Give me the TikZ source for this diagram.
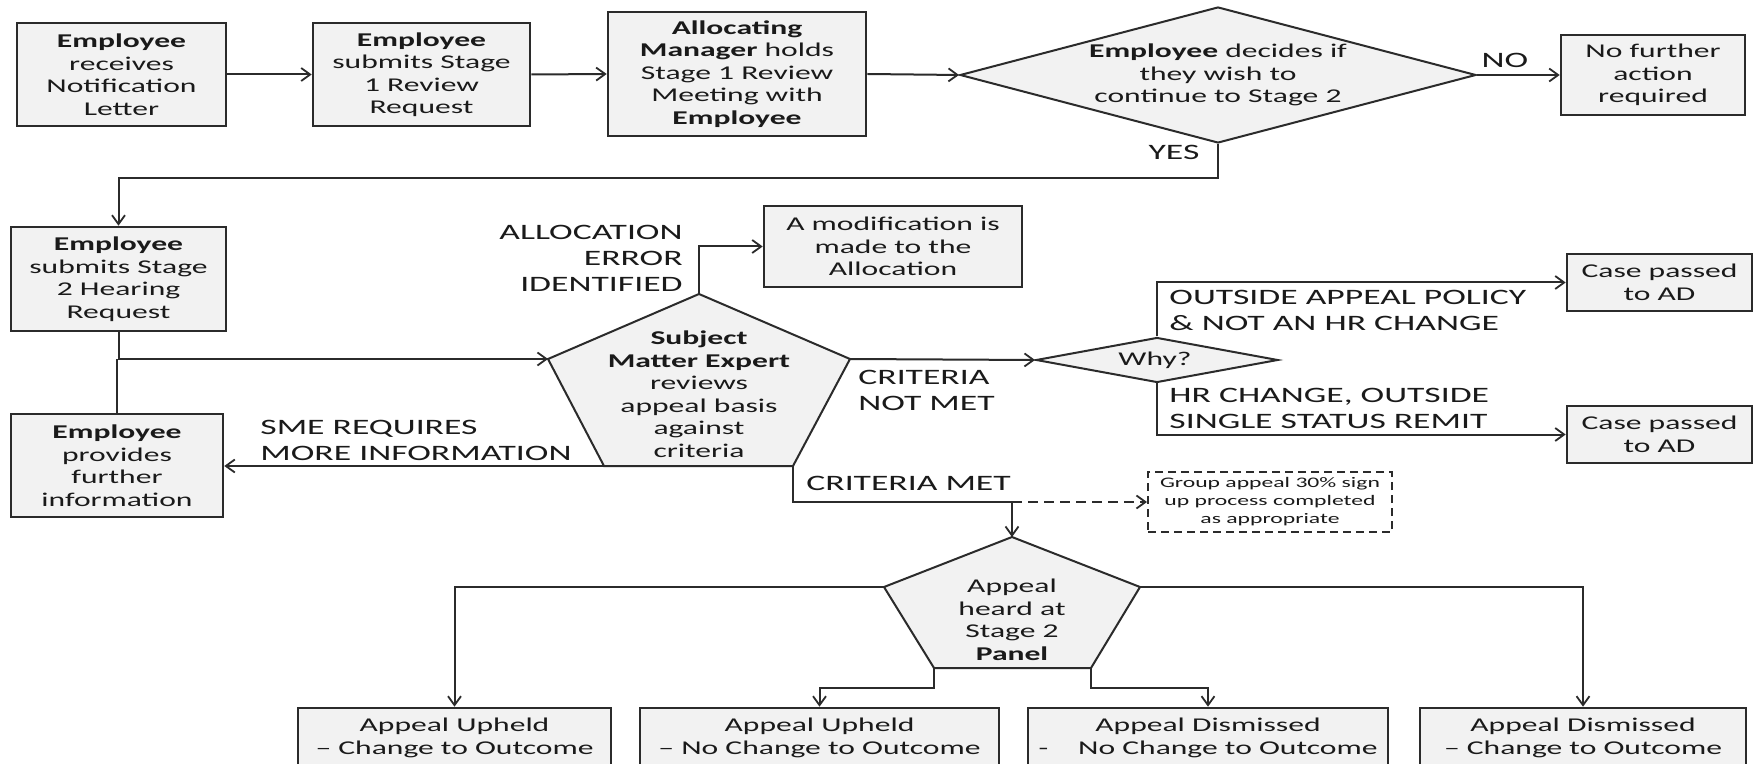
\documentclass[tikz,border=0pt]{standalone}
\usepackage{fontspec}
\setmainfont{Carlito}[FakeStretch=1.62]
\usetikzlibrary{arrows.meta,shapes.geometric}

\definecolor{boxfill}{HTML}{F2F2F2}
\definecolor{linegray}{HTML}{2B2B2B}
\definecolor{inkcol}{HTML}{1A1A1A}

\newcommand\flowboxfont{\fontsize{9.75pt}{11.25pt}\selectfont}
\newcommand\flowlabelfont{\fontsize{11pt}{13pt}\selectfont}
\newcommand\flownotefont{\fontsize{7.3pt}{9pt}\selectfont}

% box given by its corners (x1,y1) (x2,y2) in pixel units
\newcommand\flowbox[7][]{%
  \node[boxst,#1,minimum width={(#4-#2)*0.5pt},minimum height={(#5-#3)*0.5pt}]
    (#6) at ({(#2+#4)/2},{(#3+#5)/2}) {#7};}

\begin{document}
\begin{tikzpicture}[x=0.5pt,y=-0.5pt,
  boxst/.style={draw=linegray,line width=1.3pt,fill=boxfill,inner sep=0pt,
    align=center,font=\flowboxfont,text=inkcol},
  notest/.style={draw=linegray,line width=1pt,dash pattern=on 4pt off 2.5pt,
    fill=white,inner sep=0pt,align=center,font=\flownotefont,text=inkcol},
  shapest/.style={draw=linegray,line width=1pt,fill=boxfill},
  decisionst/.style={diamond,shapest,inner sep=0pt},
  txt/.style={inner sep=0pt,align=center,font=\flowboxfont,text=inkcol},
  lab/.style={inner sep=0pt,font=\flowlabelfont,text=inkcol},
  ln/.style={draw=linegray,line width=1pt},
  arr/.style={ln,-{Straight Barb[length=4.5pt,width=6.5pt,line width=0.9pt]}}]

\useasboundingbox (0,0) rectangle (1755,764);
\fill[white] (0,0) rectangle (1755,764);
\clip (0,0) rectangle (1755,764);

% ---- stage 1 row
\flowbox{17}{23}{226}{126}{b1}{\textbf{Employee}\\receives\\Notification\\Letter}
\flowbox{313}{23}{530}{126}{b2}{\textbf{Employee}\\submits Stage\\1 Review\\Request}
\flowbox{608}{12}{866}{136}{b3}{\textbf{Allocating}\\\textbf{Manager} holds\\Stage 1 Review\\Meeting with\\\textbf{Employee}}
\node[decisionst,minimum width=258pt,minimum height=68pt] (d1) at (1218,75) {};
\node[txt] (d1t) at (1218,75) {\textbf{Employee} decides if\\they wish to\\continue to Stage 2};
\flowbox{1561}{35}{1745}{115}{b4}{No further\\action\\required}

\draw[arr] (b1.east) -- (b2.west);
\draw[arr] (b2.east) -- (b3.west);
\draw[arr] (b3.east) -- (d1.west);
\draw[arr] (d1.east) -- (b4.west);
\node[lab] (nolab) at (1505,60) {NO};
\node[lab] (yeslab) at (1174,152) {YES};

% ---- stage 2 review
\flowbox{11}{227}{226}{331}{b5}{\textbf{Employee}\\submits Stage\\2 Hearing\\Request}
\flowbox{11}{414}{223}{517}{b6}{\textbf{Employee}\\provides\\further\\information}
\flowbox{764}{206}{1022}{287}{b7}{A modification is\\made to the\\Allocation}

\coordinate (smeT) at (699,294);
\coordinate (smeR) at (850,359);
\coordinate (smeBR) at (793,466);
\coordinate (smeBL) at (604,466);
\coordinate (smeL) at (548,359);
\draw[shapest] (smeT) -- (smeR) -- (smeBR) -- (smeBL) -- (smeL) -- cycle;
\node[txt] (sme) at (699,394) {\textbf{Subject}\\\textbf{Matter Expert}\\reviews\\appeal basis\\against\\criteria};

\draw[arr] (d1.south) -- ++(0,34) -| (b5.north);
\draw[arr] (b5.south) |- (smeL);
\draw[ln] (b6.north) -- (b6.north |- smeL);
\draw[arr] (smeBL) -- (smeBL -| b6.east);
\draw[arr] (smeT) |- (b7.west);

\node[lab,anchor=east,align=right] (errlab) at (683,258) {ALLOCATION\\ERROR\\IDENTIFIED};
\node[lab,anchor=west,align=left] (smelab) at (260,440) {SME REQUIRES\\MORE INFORMATION};
\node[lab,anchor=west,align=left] (nmlab) at (858,390) {CRITERIA\\NOT MET};
\node[lab,anchor=west] (cmlab) at (806,483) {CRITERIA MET};

% ---- criteria not met
\node[decisionst,minimum width=121pt,minimum height=22.5pt] (why) at (1157,360) {};
\node[txt] (whyt) at (1155,360) {Why?};
\flowbox{1567}{254}{1752}{311}{b8}{Case passed\\to AD}
\flowbox{1567}{406}{1752}{463}{b9}{Case passed\\to AD}
\draw[arr] (smeR) -- (why.west);
\draw[arr] (why.north) |- (b8.west);
\draw[arr] (why.south) |- (b9.west);
\node[lab,anchor=west,align=left] (oalab) at (1169,310) {OUTSIDE APPEAL POLICY\\\& NOT AN HR CHANGE};
\node[lab,anchor=west,align=left] (hrlab) at (1169,408) {HR CHANGE, OUTSIDE\\SINGLE STATUS REMIT};

% ---- criteria met
\flowbox[notest]{1148}{472}{1392}{532}{grp}{Group appeal 30\% sign\\up process completed\\as appropriate}
\coordinate (cm) at (1012,502);
\coordinate (apT) at (1012,537);
\coordinate (apR) at (1140,587);
\coordinate (apBR) at (1091,668);
\coordinate (apBL) at (934,668);
\coordinate (apL) at (884,587);
\draw[shapest] (apT) -- (apR) -- (apBR) -- (apBL) -- (apL) -- cycle;
\node[txt] (panel) at (1012,620) {Appeal\\heard at\\Stage 2\\\textbf{Panel}};
\draw[ln] (smeBR) |- (cm);
\draw[arr] (cm) -- (apT);
\draw[arr,dash pattern=on 5pt off 3pt] (cm) -- (grp.west);

% ---- outcomes
\flowbox{298}{708}{611}{768}{o1}{Appeal Upheld\\– Change to Outcome}
\flowbox{640}{708}{999}{768}{o2}{Appeal Upheld\\– No Change to Outcome}
\flowbox{1028}{708}{1388}{768}{o3}{Appeal Dismissed\\-\hspace{15pt}No Change to Outcome}
\flowbox{1420}{708}{1746}{768}{o4}{Appeal Dismissed\\– Change to Outcome}
\draw[arr] (apL) -| (o1.north);
\draw[arr] (apBL) -- ++(0,20) -| (o2.north);
\draw[arr] (apBR) -- ++(0,20) -| (o3.north);
\draw[arr] (apR) -| (o4.north);

\end{tikzpicture}
\end{document}
